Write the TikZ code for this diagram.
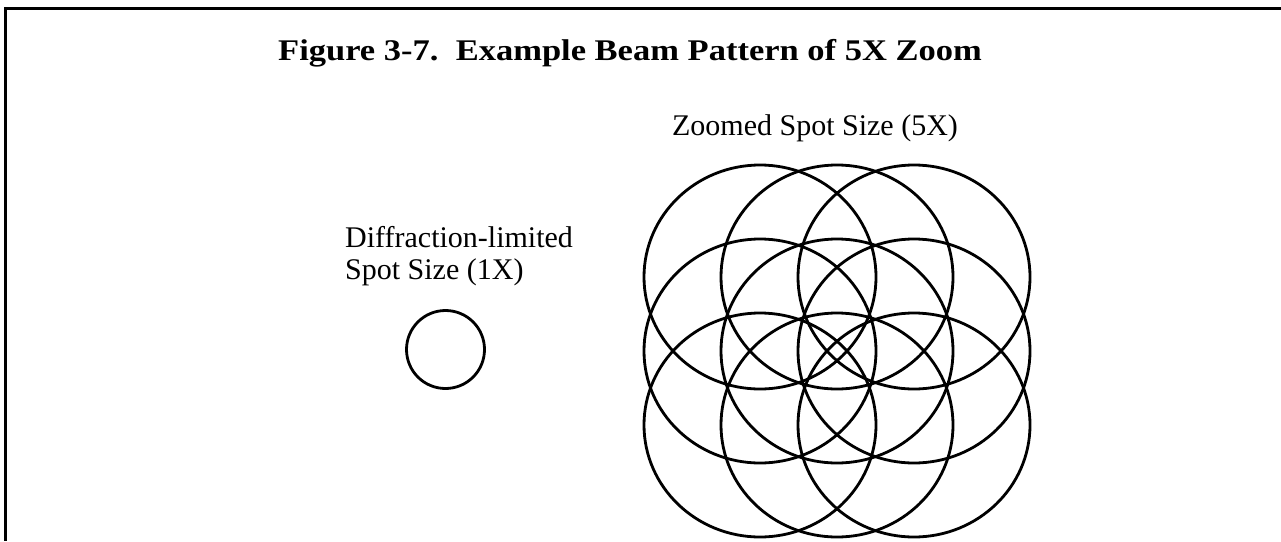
\documentclass[tikz,border=0pt]{standalone}
\usepackage{fontspec}
\setmainfont{Liberation Serif}
\newfontfamily\titlefont[FakeStretch=1.15]{Liberation Serif}
\begin{document}
\begin{tikzpicture}[x=1pt,y=-1pt,
  frame/.style={line width=3pt},
  beam/.style={line width=2.8pt},
  lbl/.style={inner sep=0pt,font=\fontsize{30}{34}\selectfont},
  ttl/.style={inner sep=0pt,font=\titlefont\bfseries\fontsize{30}{34}\selectfont}]
\useasboundingbox (0,0) rectangle (1281,541);
% frame (top and left edges)
\draw[frame] (1281,8) -- (5,8) -- (5,541);
% title
\node[ttl,anchor=base] (title) at (630,60) {Figure 3-7.\ \ Example Beam Pattern of 5X Zoom};
% labels
\node[lbl,anchor=base] (zlabel) at (815,135) {Zoomed Spot Size (5X)};
\node[lbl,anchor=base west] (dlabel1) at (345,247) {Diffraction-limited};
\node[lbl,anchor=base west] (dlabel2) at (345,279) {Spot Size (1X)};
% diffraction-limited spot
\draw[beam] (445.5,349.5) circle[radius=39];
% zoomed spot: 3x3 grid of beam positions
\foreach \cx in {760,837,914}{
  \foreach \cy in {277,351,425}{
    \draw[beam] (\cx,\cy) ellipse[x radius=116,y radius=112];
  }
}
\end{tikzpicture}
\end{document}
